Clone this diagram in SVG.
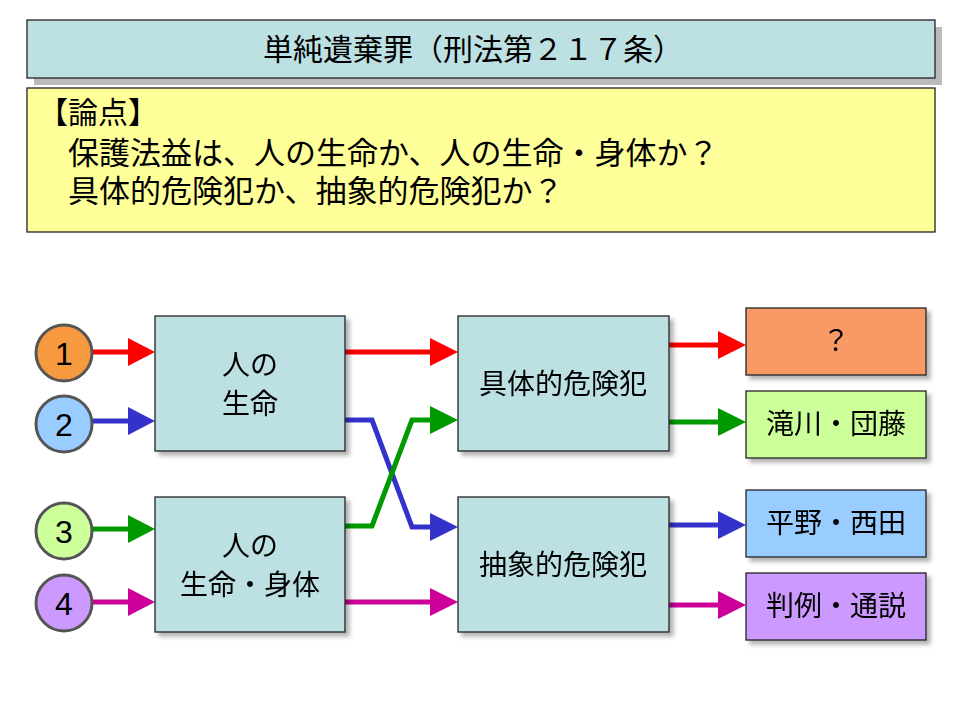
<svg xmlns="http://www.w3.org/2000/svg" width="960" height="720" viewBox="0 0 960 720">
<style>
text{font-family:"Liberation Sans","Noto Sans CJK JP",sans-serif;fill:#000}
.b{fill:#bde0e3;stroke:#222;stroke-width:1.3}
.r{stroke:#222;stroke-width:1.3}
.c{stroke:#555;stroke-width:3}
.l{fill:none;stroke-width:5}
.t{font-size:28px;text-anchor:middle}
.n{font-size:32px;text-anchor:middle}
</style>
<defs>
<filter id="s" x="-10%" y="-10%" width="130%" height="130%"><feDropShadow dx="4" dy="4" stdDeviation="2" flood-color="#000" flood-opacity="0.3"/></filter>
</defs>
<rect width="960" height="720" fill="#fff"/>
<g id="title">
<rect x="34" y="27" width="908" height="58" fill="#bbb"/>
<rect x="27" y="20" width="908" height="58" class="b"/>
<text x="473" y="60" font-size="30" text-anchor="middle">単純遺棄罪（刑法第２１７条）</text>
</g>
<g id="issues">
<rect x="27" y="88" width="908" height="144" fill="#ffff99" stroke="#222" stroke-width="1.3"/>
<text x="38" y="123" font-size="30">【論点】</text>
<text x="68" y="164" font-size="31">保護法益は、人の生命か、人の生命・身体か？</text>
<text x="68" y="202" font-size="31">具体的危険犯か、抽象的危険犯か？</text>
</g>
<g id="connectors">
<path class="l" stroke="#f00" d="M92 352H130"/><polygon fill="#f00" points="128,338 155,352 128,366"/>
<path class="l" stroke="#33c" d="M92 421H130"/><polygon fill="#33c" points="128,407 155,421 128,435"/>
<path class="l" stroke="#090" d="M92 529H130"/><polygon fill="#090" points="128,515 155,529 128,543"/>
<path class="l" stroke="#c09" d="M92 602H130"/><polygon fill="#c09" points="128,588 155,602 128,616"/>
<path class="l" stroke="#f00" d="M345 352H432"/><polygon fill="#f00" points="430,338 458,352 430,366"/>
<path class="l" stroke="#33c" d="M345 420H372L412 527H432"/><polygon fill="#33c" points="430,513 458,527 430,541"/>
<path class="l" stroke="#090" d="M345 526H372L412 420H432"/><polygon fill="#090" points="430,406 458,420 430,434"/>
<path class="l" stroke="#c09" d="M345 602H432"/><polygon fill="#c09" points="430,588 458,602 430,616"/>
<path class="l" stroke="#f00" d="M669 345H720"/><polygon fill="#f00" points="718,331 746,345 718,359"/>
<path class="l" stroke="#090" d="M669 422H720"/><polygon fill="#090" points="718,408 746,422 718,436"/>
<path class="l" stroke="#33c" d="M669 525H720"/><polygon fill="#33c" points="718,511 746,525 718,539"/>
<path class="l" stroke="#c09" d="M669 605H720"/><polygon fill="#c09" points="718,591 746,605 718,619"/>
</g>
<g id="n1"><circle cx="64" cy="353" r="28" fill="#f7993e" class="c"/><text x="64" y="365" class="n">1</text></g>
<g id="n2"><circle cx="64" cy="424" r="28" fill="#99ccff" class="c"/><text x="64" y="436" class="n">2</text></g>
<g id="n3"><circle cx="64" cy="531" r="28" fill="#ccff99" class="c"/><text x="64" y="543" class="n">3</text></g>
<g id="n4"><circle cx="64" cy="603" r="28" fill="#cc99ff" class="c"/><text x="64" y="615" class="n">4</text></g>
<g id="life" filter="url(#s)"><rect x="155" y="316" width="190" height="135" class="b"/><text x="250" y="375" class="t">人の</text><text x="250" y="414" class="t">生命</text></g>
<g id="lifebody" filter="url(#s)"><rect x="155" y="497" width="190" height="135" class="b"/><text x="250" y="556" class="t">人の</text><text x="250" y="595" class="t">生命・身体</text></g>
<g id="concrete" filter="url(#s)"><rect x="458" y="316" width="211" height="135" class="b"/><text x="563" y="394" class="t">具体的危険犯</text></g>
<g id="abstract" filter="url(#s)"><rect x="458" y="497" width="211" height="135" class="b"/><text x="563" y="575" class="t">抽象的危険犯</text></g>
<g id="q" filter="url(#s)"><rect x="746" y="308" width="180" height="67" fill="#f99966" class="r"/><text x="836" y="351" class="t">？</text></g>
<g id="takigawa" filter="url(#s)"><rect x="746" y="391" width="180" height="67" fill="#ccff99" class="r"/><text x="836" y="434" class="t">滝川・団藤</text></g>
<g id="hirano" filter="url(#s)"><rect x="746" y="490" width="180" height="67" fill="#99ccff" class="r"/><text x="836" y="533" class="t">平野・西田</text></g>
<g id="hanrei" filter="url(#s)"><rect x="746" y="573" width="180" height="67" fill="#cc99ff" class="r"/><text x="836" y="616" class="t">判例・通説</text></g>
</svg>
